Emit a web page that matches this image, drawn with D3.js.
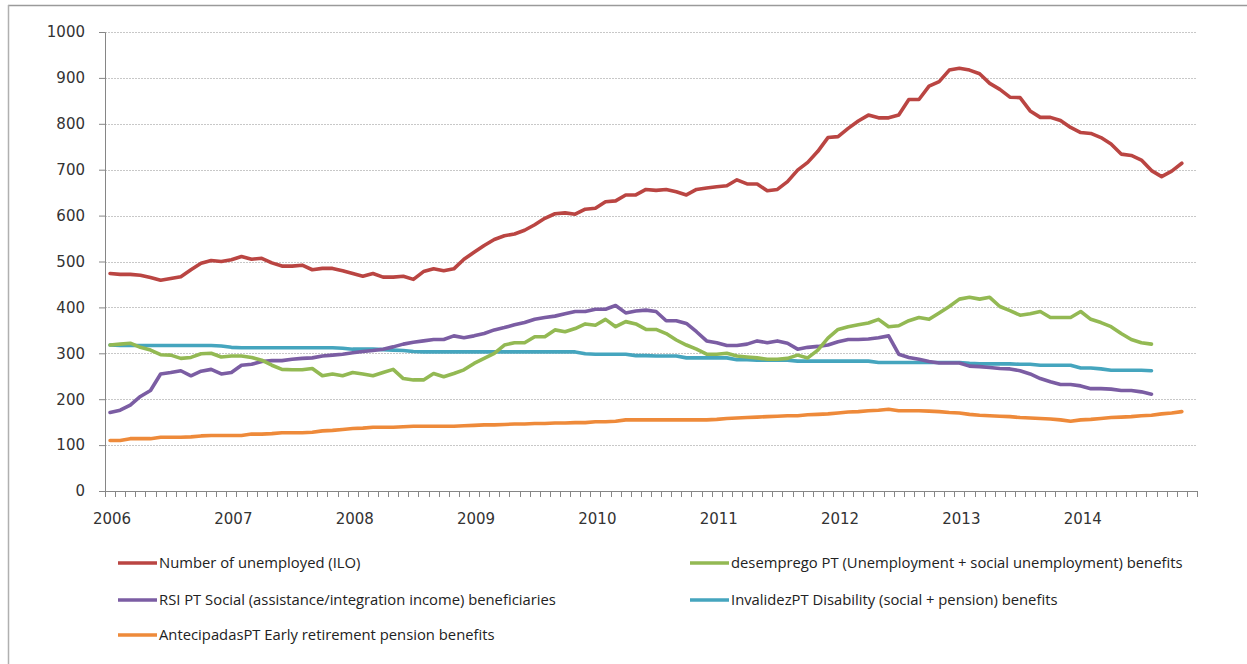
<!DOCTYPE html>
<html>
<head>
<meta charset="utf-8">
<script src="https://cdn.jsdelivr.net/npm/d3@7"></script>
<style>
  body { margin: 0; background: #fff; }
  .tick text { font-family: "DejaVu Sans", sans-serif; font-size: 15px; fill: #333; }
  .legend text { font-family: "Open Sans", sans-serif; font-size: 14.8px; fill: #222; }
</style>
</head>
<body>
<div id="chart"></div>
<script>
// monthly series, Jan 2006 onwards (thousands)
var years = ["2006","2007","2008","2009","2010","2011","2012","2013","2014"];
var yTicks = [0,100,200,300,400,500,600,700,800,900,1000];

var unemployed = [474,472,472,470,465,459,463,467,482,496,502,500,504,511,505,507,497,490,490,492,482,485,485,480,
  474,468,474,466,466,468,461,478,484,480,484,505,520,535,548,556,560,568,580,594,604,606,603,614,
  616,630,632,645,645,657,655,657,652,645,657,660,663,665,678,669,669,654,657,674,699,716,740,770,
  772,790,806,819,813,813,819,853,853,882,892,917,921,917,909,888,875,858,857,828,814,814,807,792,
  781,779,770,756,734,731,721,698,685,697,714];

var desemprego = [318,320,322,313,307,297,296,289,291,299,300,292,294,294,291,285,274,265,264,264,267,251,255,251,
  258,255,251,258,265,245,242,242,256,249,256,264,278,289,300,318,323,323,336,336,351,347,354,364,
  361,374,358,369,364,352,352,343,329,318,309,298,298,300,294,292,290,287,287,289,296,290,307,333,
  352,358,362,366,374,358,360,371,378,374,388,402,418,422,418,422,402,393,383,386,391,378,378,378,
  391,374,367,358,343,330,323,320];

var rsi = [171,176,187,206,219,255,258,262,251,261,265,255,258,274,276,282,284,284,287,289,290,294,296,298,
  301,304,306,309,314,320,324,327,330,330,338,334,338,343,351,356,362,367,374,378,381,386,391,391,
  396,396,404,388,392,394,391,371,371,365,347,327,323,317,317,320,327,323,327,322,309,313,315,318,
  325,330,330,331,334,338,298,291,287,282,279,279,279,272,271,269,267,266,262,255,245,238,232,232,
  229,223,223,222,219,219,216,211];

var invalidez = [318,317,317,317,317,317,317,317,317,317,317,316,313,312,312,312,312,312,312,312,312,312,312,311,
  309,309,309,308,307,306,304,303,303,303,303,303,303,303,303,303,303,303,303,303,303,303,303,299,
  298,298,298,298,295,295,294,294,294,290,290,290,290,290,286,286,285,285,285,285,283,283,283,283,
  283,283,283,283,280,280,280,280,280,280,280,280,280,278,277,277,277,277,276,276,274,274,274,274,
  268,268,266,263,263,263,263,262];

var antecipadas = [110,110,114,114,114,117,117,117,118,120,121,121,121,121,124,124,125,127,127,127,128,131,132,134,
  136,137,139,139,139,140,141,141,141,141,141,142,143,144,144,145,146,146,147,147,148,148,149,149,
  151,151,152,155,155,155,155,155,155,155,155,155,156,158,159,160,161,162,163,164,164,166,167,168,
  170,172,173,175,176,178,175,175,175,174,173,171,170,167,165,164,163,162,160,159,158,157,155,152,
  155,156,158,160,161,162,164,165,168,170,173];

var seriesNames = [
  "Number of unemployed (ILO)",
  "desemprego PT (Unemployment + social unemployment) benefits",
  "RSI PT Social (assistance/integration income) beneficiaries",
  "InvalidezPT Disability (social + pension) benefits",
  "AntecipadasPT Early retirement pension benefits"
];
var seriesColors = ["#BA4542", "#93B953", "#7B5DA3", "#45A5BE", "#EE8A3A"];
var seriesValues = [unemployed, desemprego, rsi, invalidez, antecipadas];

var W = 1247, H = 664;
var margin = { left: 105, right: 50, top: 32, bottom: 173 };
var width = W - margin.left - margin.right;
var height = H - margin.top - margin.bottom;

var nMonths = years.length * 12;
var months = d3.range(nMonths);

var svg = d3.select("#chart").append("svg")
  .attr("width", W)
  .attr("height", H);

// outer frame (top + left edges only visible)
svg.append("line").attr("x1", 8).attr("x2", W).attr("y1", 5.5).attr("y2", 5.5)
  .attr("stroke", "#9a9a9a").attr("stroke-width", 1.5);
svg.append("line").attr("x1", 8.5).attr("x2", 8.5).attr("y1", 5).attr("y2", H)
  .attr("stroke", "#b0b0b0").attr("stroke-width", 1.5);

var g = svg.append("g")
  .attr("transform", "translate(" + margin.left + "," + margin.top + ")");

var xScale = d3.scaleBand()
  .domain(months)
  .range([0, width])
  .padding(0);

var yScale = d3.scaleLinear()
  .domain([0, 1000])
  .range([height, 0]);

// gridlines
g.append("g")
  .selectAll("line")
  .data(yTicks.filter(function(d){ return d > 0; }))
  .enter()
  .append("line")
  .attr("x1", 0)
  .attr("x2", width)
  .attr("y1", function(d){ return Math.round(yScale(d)) + 0.5; })
  .attr("y2", function(d){ return Math.round(yScale(d)) + 0.5; })
  .attr("stroke", "#c8c8c8")
  .attr("stroke-dasharray", "2,1");

// y axis
var yAxis = d3.axisLeft(yScale).tickValues(yTicks).tickFormat(d3.format("d")).tickSize(6).tickPadding(14);
var gy = g.append("g").attr("class", "axis").call(yAxis);
gy.select(".domain").attr("stroke", "#868686");
gy.selectAll(".tick line").attr("stroke", "#868686");

// x axis: monthly tick marks between categories, year labels
var gx = g.append("g").attr("transform", "translate(0," + height + ")");
gx.append("line").attr("x1", -6).attr("x2", width).attr("y1", 0.5).attr("y2", 0.5)
  .attr("stroke", "#868686");
gx.selectAll(".mtick")
  .data(d3.range(nMonths + 1))
  .enter()
  .append("line")
  .attr("class", "mtick")
  .attr("x1", function(d){ return Math.round(d * xScale.bandwidth()) + 0.5; })
  .attr("x2", function(d){ return Math.round(d * xScale.bandwidth()) + 0.5; })
  .attr("y1", 0)
  .attr("y2", 6)
  .attr("stroke", "#868686");
gx.selectAll(".tick")
  .data(years)
  .enter()
  .append("g")
  .attr("class", "tick")
  .append("text")
  .attr("x", function(d, i){ return xScale(i * 12) + xScale.bandwidth() / 2 + 2; })
  .attr("y", 33)
  .attr("text-anchor", "middle")
  .text(function(d){ return d; });

// lines
var line = d3.line()
  .x(function(d, i){ return xScale(i) + xScale.bandwidth() / 2; })
  .y(function(d){ return yScale(d); });

var order = [4, 3, 2, 1, 0];
order.forEach(function(k){
  g.append("path")
    .datum(seriesValues[k])
    .attr("fill", "none")
    .attr("stroke", seriesColors[k])
    .attr("stroke-width", 3.6)
    .attr("stroke-linejoin", "round")
    .attr("stroke-linecap", "round")
    .attr("d", line);
});

// legend
var legendPos = [
  { x: 118, y: 563 },
  { x: 690, y: 563 },
  { x: 118, y: 600 },
  { x: 690, y: 600 },
  { x: 118, y: 635 }
];
var legend = svg.append("g").attr("class", "legend");
seriesNames.forEach(function(name, k){
  var p = legendPos[k];
  legend.append("line")
    .attr("x1", p.x).attr("x2", p.x + 39)
    .attr("y1", p.y).attr("y2", p.y)
    .attr("stroke", seriesColors[k])
    .attr("stroke-width", 3.6);
  legend.append("text")
    .attr("x", p.x + 41)
    .attr("y", p.y)
    .attr("dy", "0.35em")
    .text(name);
});
</script>
</body>
</html>
